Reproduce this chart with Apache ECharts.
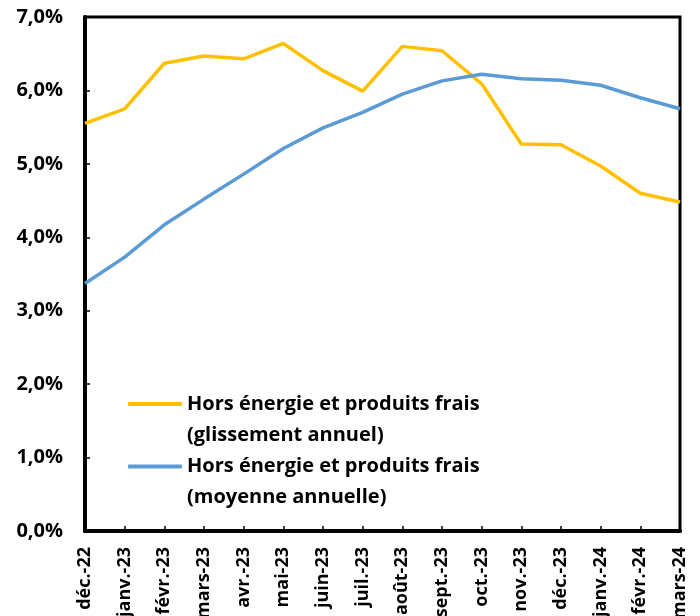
<!DOCTYPE html>
<html>
<head>
<meta charset="utf-8">
<script src="https://cdn.jsdelivr.net/npm/echarts@6/dist/echarts.min.js"></script>
<style>
html,body{margin:0;padding:0;background:#fff;}
#chart{width:700px;height:616px;}
</style>
</head>
<body>
<div id="chart"></div>
<script>
const categories = ['déc.-22','janv.-23','févr.-23','mars-23','avr.-23','mai-23','juin-23','juil.-23','août-23','sept.-23','oct.-23','nov.-23','déc.-23','janv.-24','févr.-24','mars-24'];
const glissement = [5.55,5.75,6.37,6.47,6.43,6.64,6.27,5.99,6.60,6.54,6.09,5.27,5.26,4.97,4.60,4.48];
const moyenne = [3.37,3.73,4.17,4.52,4.86,5.21,5.49,5.70,5.95,6.13,6.22,6.16,6.14,6.07,5.90,5.75];
const name1 = 'Hors énergie et produits frais\n(glissement annuel)';
const name2 = 'Hors énergie et produits frais\n(moyenne annuelle)';
const yTicks = [0,1,2,3,4,5,6,7];

const FONT = 'Open Sans';
const chart = echarts.init(document.getElementById('chart'), null, {renderer:'canvas'});
const legendText = {
  fontFamily: FONT, fontWeight: 'bold', fontSize: 20, color: '#000', lineHeight: 31
};
chart.setOption({
  animation: false,
  backgroundColor: '#fff',
  grid: {left: 85, right: 20, top: 17, bottom: 85, containLabel: false, outerBoundsMode: 'none',
    show: true, borderColor: '#000', borderWidth: 3, backgroundColor: 'transparent'},
  legend: [
    {data: [name1], left: 128, top: 357.5, orient: 'vertical', padding: 0,
     itemWidth: 54, itemHeight: 4, icon: 'roundRect',
     formatter: n => '\n' + n, textStyle: legendText},
    {data: [name2], left: 128, top: 420, orient: 'vertical', padding: 0,
     itemWidth: 54, itemHeight: 4, icon: 'roundRect',
     formatter: n => '\n' + n, textStyle: legendText}
  ],
  xAxis: {
    type: 'category', data: categories, boundaryGap: false,
    axisLine: {lineStyle: {color: '#000', width: 4}},
    axisTick: {inside: true, length: 5, lineStyle: {color: '#000', width: 1.5}},
    axisLabel: {rotate: 90, margin: 16, fontFamily: FONT, fontWeight: 'bold', fontSize: 18, color: '#000', interval: 0},
    splitLine: {show: false}
  },
  yAxis: {
    type: 'value', min: yTicks[0], max: yTicks[yTicks.length-1], interval: 1,
    axisLine: {show: true, lineStyle: {color: '#000', width: 4}},
    axisTick: {show: true, inside: true, length: 5, lineStyle: {color: '#000', width: 1.5}},
    axisLabel: {margin: 22, fontFamily: FONT, fontWeight: 'bold', fontSize: 20, color: '#000',
      formatter: v => v.toFixed(1).replace('.', ',') + '%'},
    splitLine: {show: false}
  },
  series: [
    {name: name1, type: 'line', data: glissement, showSymbol: false, symbol: 'none',
     lineStyle: {color: '#FFC000', width: 3.5}, itemStyle: {color: '#FFC000'}},
    {name: name2, type: 'line', data: moyenne, showSymbol: false, symbol: 'none',
     lineStyle: {color: '#5B9BD5', width: 3.5}, itemStyle: {color: '#5B9BD5'}}
  ]
});
</script>
</body>
</html>
